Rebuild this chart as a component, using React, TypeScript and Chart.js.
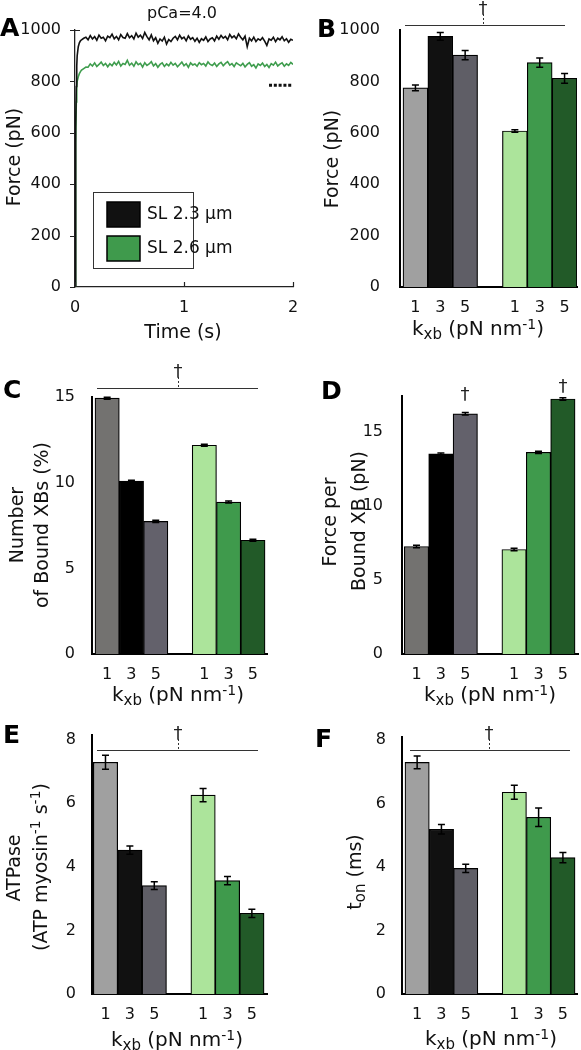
import React, { useEffect, useRef } from 'react';
import { Chart, registerables } from 'chart.js';

Chart.register(...registerables);

const W = 581;
const H = 1050;
const FONT = "'DejaVu Sans', 'Noto Sans', sans-serif";
const TEXT = '#111111';
const TICK_SIZE = 16;

// ---------- Panel A data (force trace, pCa = 4.0) ----------
const traceTime = [
  0, 0.004, 0.008, 0.012, 0.016, 0.02, 0.03, 0.04, 0.05, 0.06, 0.08, 0.1,
  0.12, 0.14, 0.16, 0.18, 0.2, 0.22, 0.24, 0.26, 0.28, 0.3,
  0.32, 0.34, 0.36, 0.38, 0.4, 0.42, 0.44, 0.46, 0.48, 0.5,
  0.52, 0.54, 0.56, 0.58, 0.6, 0.62, 0.64, 0.66, 0.68, 0.7,
  0.72, 0.74, 0.76, 0.78, 0.8, 0.82, 0.84, 0.86, 0.88, 0.9,
  0.92, 0.94, 0.96, 0.98, 1.0, 1.02, 1.04, 1.06, 1.08, 1.1,
  1.12, 1.14, 1.16, 1.18, 1.2, 1.22, 1.24, 1.26, 1.28, 1.3,
  1.32, 1.34, 1.36, 1.38, 1.4, 1.42, 1.44, 1.46, 1.48, 1.5,
  1.52, 1.54, 1.56, 1.58, 1.6, 1.62, 1.64, 1.66, 1.68, 1.7,
  1.72, 1.74, 1.76, 1.78, 1.8, 1.82, 1.84, 1.86, 1.88, 1.9,
  1.92, 1.94, 1.96, 1.98, 2.0,
];
const forceSL23 = [
  0, 350, 620, 780, 860, 900, 935, 950, 958, 962, 968, 972,
  962, 978, 965, 974, 960, 980, 968, 972, 958, 976,
  970, 984, 966, 975, 962, 982, 971, 968, 986, 970,
  978, 965, 988, 972, 980, 967, 990, 974, 962, 981,
  958, 970, 948, 965, 957, 972, 945, 963, 955, 968,
  975, 962, 980, 966, 972, 958, 977, 964, 970, 956,
  968, 952, 966, 960, 973, 955, 965, 970, 958, 976,
  964, 979, 968, 975, 962, 983, 970, 977, 966, 985,
  972, 962, 976, 935, 968, 958, 972, 955, 966, 960,
  970, 957, 940, 965, 960, 972, 955, 968, 962, 974,
  958, 966, 952, 964, 960,
];
const forceSL26 = [
  0, 300, 560, 720, 780, 800, 818, 830, 838, 844, 850, 856,
  855, 868, 860, 872, 858, 866, 875, 862, 870, 857,
  869, 861, 874, 864, 878, 860, 870, 866, 882, 863,
  871, 859, 876, 865, 870, 856, 873, 862, 868, 877,
  860, 869, 855, 866, 872, 858, 868, 861, 874, 863,
  870, 857, 866, 875, 861, 869, 855, 872, 864, 868,
  859, 873, 865, 870, 860, 876, 866, 862, 871, 858,
  868, 874, 861, 870, 877, 863, 869, 858, 872, 866,
  861, 870, 856, 866, 873, 859, 865, 852, 868, 862,
  871, 858, 866, 854, 869, 863, 875, 860, 867, 872,
  859, 868, 862, 874, 866,
];
const refLineTime = [1.78, 2.0];
const refLineForce = [785, 785];
const forceTicksA = [0, 200, 400, 600, 800, 1000];
const timeTicksA = [0, 1, 2];
const legendLabels = ['SL 2.3 \u03bcm', 'SL 2.6 \u03bcm'];

// ---------- Bar panels ----------
const kxbLabels = ['1', '3', '5', '1', '3', '5'];
const barSlots = [1, 2, 3, 5, 6, 7];

const forceB = [775, 975, 902, 607, 873, 812];
const forceBErr = [11, 15, 18, 5, 18, 19];
const boundXbC = [14.95, 10.1, 7.75, 12.2, 8.88, 6.65];
const boundXbCErr = [0.06, 0.06, 0.06, 0.06, 0.06, 0.06];
const forcePerXbD = [7.25, 13.5, 16.2, 7.05, 13.6, 17.2];
const forcePerXbDErr = [0.08, 0.06, 0.08, 0.08, 0.08, 0.08];
const atpaseE = [7.29, 4.53, 3.41, 6.26, 3.57, 2.54];
const atpaseEErr = [0.22, 0.13, 0.12, 0.21, 0.13, 0.13];
const tonF = [7.3, 5.19, 3.96, 6.36, 5.57, 4.3];
const tonFErr = [0.2, 0.15, 0.13, 0.22, 0.29, 0.16];

const ticksForce = [0, 200, 400, 600, 800, 1000];
const ticks0to15 = [0, 5, 10, 15];
const ticks0to8 = [0, 2, 4, 6, 8];

const colorsLight = ['#a0a0a0', '#111111', '#5f5e66', '#ace49b', '#3f9a4c', '#225a28'];
const colorsDark = ['#737270', '#000000', '#63616b', '#ace49b', '#3f9a4c', '#225a28'];

type Seg = { t: string; s: number; dy?: number };

const kxbSegs: Seg[] = [
  { t: 'k', s: 20 },
  { t: 'xb', s: 15, dy: 4 },
  { t: ' (pN nm', s: 20 },
  { t: '-1', s: 14, dy: -6 },
  { t: ')', s: 20 },
];

function drawRich(ctx: CanvasRenderingContext2D, segs: Seg[], x: number, y: number, rotated: boolean) {
  ctx.save();
  ctx.translate(x, y);
  if (rotated) ctx.rotate(-Math.PI / 2);
  ctx.textAlign = 'left';
  ctx.textBaseline = 'alphabetic';
  ctx.fillStyle = TEXT;
  const widths = segs.map((sg) => {
    ctx.font = `${sg.s}px ${FONT}`;
    return ctx.measureText(sg.t).width;
  });
  const total = widths.reduce((a, b) => a + b, 0);
  let cx = -total / 2;
  segs.forEach((sg, i) => {
    ctx.font = `${sg.s}px ${FONT}`;
    ctx.fillText(sg.t, cx, sg.dy || 0);
    cx += widths[i];
  });
  ctx.restore();
}

function drawLetter(ctx: CanvasRenderingContext2D, letter: string, x: number, y: number) {
  ctx.save();
  ctx.font = `bold 25px ${FONT}`;
  ctx.fillStyle = '#000';
  ctx.textAlign = 'left';
  ctx.textBaseline = 'middle';
  ctx.fillText(letter, x, y);
  ctx.restore();
}

function drawDagger(ctx: CanvasRenderingContext2D, x: number, baseline: number) {
  ctx.save();
  ctx.font = `18px ${FONT}`;
  ctx.fillStyle = '#222';
  ctx.textAlign = 'center';
  ctx.textBaseline = 'alphabetic';
  ctx.fillText('\u2020', x, baseline);
  ctx.restore();
}

function drawDaggerSpan(ctx: CanvasRenderingContext2D, y: number, x1: number, x2: number, xc: number) {
  ctx.save();
  ctx.strokeStyle = '#333';
  ctx.lineWidth = 1;
  ctx.beginPath();
  ctx.moveTo(x1, y + 0.5);
  ctx.lineTo(x2, y + 0.5);
  ctx.stroke();
  ctx.setLineDash([2, 2]);
  ctx.beginPath();
  ctx.moveTo(xc + 0.5, y - 11);
  ctx.lineTo(xc + 0.5, y);
  ctx.stroke();
  ctx.restore();
  drawDagger(ctx, xc, y - 11);
}

type TitleLine = { segs: Seg[]; x: number; y: number };
type BarPanel = {
  letter: string;
  letterX: number;
  letterY: number;
  L: number;
  R: number;
  T: number;
  B: number;
  xMin: number;
  xMax: number;
  yMax: number;
  yTicks: number[];
  tickPad: number;
  values: number[];
  errors: number[];
  colors: string[];
  yTitle: TitleLine[];
  xTitle: { x: number; y: number };
  span?: { y: number; x1: number; x2: number; xc: number };
  daggers?: { x: number; y: number }[];
};

const BAR_PANELS: BarPanel[] = [
  {
    letter: 'B', letterX: 317, letterY: 30,
    L: 400, R: 577, T: 30, B: 287, xMin: 0.379, xMax: 7.5, yMax: 1000,
    yTicks: ticksForce, tickPad: 12,
    values: forceB, errors: forceBErr, colors: colorsLight,
    yTitle: [{ segs: [{ t: 'Force (pN)', s: 19 }], x: 338, y: 159 }],
    xTitle: { x: 478, y: 335 },
    span: { y: 25, x1: 405, x2: 565, xc: 483 },
  },
  {
    letter: 'C', letterX: 3, letterY: 391,
    L: 92, R: 267, T: 397, B: 654, xMin: 0.376, xMax: 7.58, yMax: 15.02,
    yTicks: ticks0to15, tickPad: 9,
    values: boundXbC, errors: boundXbCErr, colors: colorsDark,
    yTitle: [
      { segs: [{ t: 'Number', s: 19 }], x: 23, y: 525 },
      { segs: [{ t: 'of Bound XBs (%)', s: 19 }], x: 47.5, y: 525 },
    ],
    xTitle: { x: 178, y: 701 },
    span: { y: 388, x1: 97, x2: 258, xc: 178 },
  },
  {
    letter: 'D', letterX: 321, letterY: 392,
    L: 402, R: 578, T: 396, B: 654, xMin: 0.406, xMax: 7.62, yMax: 17.4,
    yTicks: ticks0to15, tickPad: 11,
    values: forcePerXbD, errors: forcePerXbDErr, colors: colorsDark,
    yTitle: [
      { segs: [{ t: 'Force per', s: 19 }], x: 336, y: 522 },
      { segs: [{ t: 'Bound XB (pN)', s: 19 }], x: 365, y: 521 },
    ],
    xTitle: { x: 490, y: 701 },
    daggers: [{ x: 465, y: 400 }, { x: 563, y: 392 }],
  },
  {
    letter: 'E', letterX: 3, letterY: 736,
    L: 92, R: 267, T: 735, B: 994, xMin: 0.447, xMax: 7.62, yMax: 8.15,
    yTicks: ticks0to8, tickPad: 8,
    values: atpaseE, errors: atpaseEErr, colors: colorsLight,
    yTitle: [
      { segs: [{ t: 'ATPase', s: 19 }], x: 19.5, y: 868 },
      {
        segs: [
          { t: '(ATP myosin', s: 19 },
          { t: '-1', s: 14, dy: -7 },
          { t: ' s', s: 19 },
          { t: '-1', s: 14, dy: -7 },
          { t: ')', s: 19 },
        ],
        x: 46.5, y: 867,
      },
    ],
    xTitle: { x: 177, y: 1046 },
    span: { y: 750, x1: 97, x2: 258, xc: 178 },
  },
  {
    letter: 'F', letterX: 315, letterY: 740,
    L: 402, R: 577, T: 737, B: 994, xMin: 0.377, xMax: 7.58, yMax: 8.1,
    yTicks: ticks0to8, tickPad: 8,
    values: tonF, errors: tonFErr, colors: colorsLight,
    yTitle: [
      {
        segs: [
          { t: 't', s: 19 },
          { t: 'on', s: 15, dy: 4 },
          { t: ' (ms)', s: 19 },
        ],
        x: 360.5, y: 872,
      },
    ],
    xTitle: { x: 491, y: 1045 },
    span: { y: 750, x1: 410, x2: 570, xc: 489 },
  },
];

function makeBarChart(canvas: HTMLCanvasElement, p: BarPanel) {
  return new Chart(canvas, {
    type: 'bar',
    data: {
      datasets: [
        {
          data: p.values.map((v, i) => ({ x: barSlots[i], y: v })),
          backgroundColor: p.colors,
          borderColor: '#000',
          borderWidth: 1.2,
          borderSkipped: 'bottom',
          barPercentage: 1,
          categoryPercentage: 1,
        } as any,
      ],
    },
    options: {
      responsive: false,
      animation: false,
      devicePixelRatio: 1,
      events: [],
      layout: { padding: { left: 0, top: p.T, right: W - p.R, bottom: 0 } },
      plugins: { legend: { display: false }, tooltip: { enabled: false }, title: { display: false } },
      scales: {
        x: {
          type: 'linear',
          min: p.xMin,
          max: p.xMax,
          offset: false,
          z: 1,
          grid: { display: false, offset: false },
          border: { display: true, color: '#000', width: 2 },
          afterBuildTicks: (s: any) => {
            s.ticks = barSlots.map((v) => ({ value: v }));
          },
          afterFit: (s: any) => {
            s.height = H - p.B;
          },
          ticks: {
            autoSkip: false,
            maxRotation: 0,
            padding: 3,
            color: TEXT,
            font: { family: FONT, size: TICK_SIZE },
            callback: (v: any) => {
              const i = barSlots.indexOf(Number(v));
              return i >= 0 ? kxbLabels[i] : '';
            },
          },
        },
        y: {
          type: 'linear',
          min: 0,
          max: p.yMax,
          z: 1,
          grid: { display: false },
          border: { display: true, color: '#000', width: 2 },
          afterBuildTicks: (s: any) => {
            s.ticks = p.yTicks.map((v) => ({ value: v }));
          },
          afterFit: (s: any) => {
            s.width = p.L;
          },
          ticks: {
            padding: p.tickPad,
            color: TEXT,
            font: { family: FONT, size: TICK_SIZE },
            callback: (v: any) => String(v),
          },
        },
      },
    } as any,
    plugins: [
      {
        id: 'extras' + p.letter,
        afterDraw(chart: any) {
          const ctx: CanvasRenderingContext2D = chart.ctx;
          const xs = chart.scales.x;
          const ys = chart.scales.y;
          ctx.save();
          ctx.strokeStyle = '#000';
          ctx.lineWidth = 1.5;
          p.values.forEach((v, i) => {
            const e = p.errors[i];
            const px = xs.getPixelForValue(barSlots[i]);
            const y1 = ys.getPixelForValue(v + e);
            const y2 = ys.getPixelForValue(v - e);
            ctx.beginPath();
            ctx.moveTo(px, y1);
            ctx.lineTo(px, y2);
            ctx.moveTo(px - 3.5, y1);
            ctx.lineTo(px + 3.5, y1);
            ctx.moveTo(px - 3.5, y2);
            ctx.lineTo(px + 3.5, y2);
            ctx.stroke();
          });
          ctx.restore();
          if (p.span) drawDaggerSpan(ctx, p.span.y, p.span.x1, p.span.x2, p.span.xc);
          if (p.daggers) p.daggers.forEach((d) => drawDagger(ctx, d.x, d.y));
          drawLetter(ctx, p.letter, p.letterX, p.letterY);
          p.yTitle.forEach((ln) => drawRich(ctx, ln.segs, ln.x, ln.y, true));
          drawRich(ctx, kxbSegs, p.xTitle.x, p.xTitle.y, false);
        },
      },
    ],
  });
}

const A_L = 75;
const A_R = 293;
const A_T = 30;
const A_B = 287;

function makeTraceChart(canvas: HTMLCanvasElement) {
  return new Chart(canvas, {
    type: 'line',
    data: {
      datasets: [
        {
          data: traceTime.map((t, i) => ({ x: t, y: forceSL23[i] })),
          borderColor: '#111111',
          borderWidth: 1.6,
          pointRadius: 0,
          tension: 0,
        },
        {
          data: traceTime.map((t, i) => ({ x: t, y: forceSL26[i] })),
          borderColor: '#3f9d4e',
          borderWidth: 1.6,
          pointRadius: 0,
          tension: 0,
        },
        {
          data: refLineTime.map((t, i) => ({ x: t, y: refLineForce[i] })),
          borderColor: '#111111',
          borderWidth: 3,
          borderDash: [3, 1.8],
          pointRadius: 0,
          tension: 0,
        },
      ],
    },
    options: {
      responsive: false,
      animation: false,
      devicePixelRatio: 1,
      events: [],
      layout: { padding: { left: 0, top: A_T, right: W - A_R, bottom: 0 } },
      plugins: { legend: { display: false }, tooltip: { enabled: false }, title: { display: false } },
      scales: {
        x: {
          type: 'linear',
          min: 0,
          max: 2,
          grid: { display: false },
          border: { display: true, color: '#222', width: 1.3 },
          afterBuildTicks: (s: any) => {
            s.ticks = timeTicksA.map((v) => ({ value: v }));
          },
          afterFit: (s: any) => {
            s.height = H - A_B;
          },
          ticks: {
            autoSkip: false,
            maxRotation: 0,
            padding: 3,
            color: TEXT,
            font: { family: FONT, size: TICK_SIZE },
            callback: (v: any) => String(v),
          },
        },
        y: {
          type: 'linear',
          min: 0,
          max: 1000,
          grid: { display: false },
          border: { display: true, color: '#222', width: 1.3 },
          afterBuildTicks: (s: any) => {
            s.ticks = forceTicksA.map((v) => ({ value: v }));
          },
          afterFit: (s: any) => {
            s.width = A_L;
          },
          ticks: {
            padding: 6,
            color: TEXT,
            font: { family: FONT, size: TICK_SIZE },
            callback: (v: any) => String(v),
          },
        },
      },
    } as any,
    plugins: [
      {
        id: 'extrasA',
        afterDraw(chart: any) {
          const ctx: CanvasRenderingContext2D = chart.ctx;
          const xs = chart.scales.x;
          const ys = chart.scales.y;
          const area = chart.chartArea;
          ctx.save();
          ctx.strokeStyle = '#222';
          ctx.lineWidth = 1.2;
          ctx.beginPath();
          forceTicksA.forEach((v) => {
            const py = Math.round(ys.getPixelForValue(v)) + 0.5;
            ctx.moveTo(area.left - 5, py);
            ctx.lineTo(area.left, py);
          });
          const topY = Math.round(ys.getPixelForValue(1000)) + 0.5;
          ctx.moveTo(area.left, topY);
          ctx.lineTo(area.left + 5, topY);
          timeTicksA.forEach((v) => {
            const px = Math.round(xs.getPixelForValue(v)) + 0.5;
            ctx.moveTo(px, area.bottom);
            ctx.lineTo(px, area.bottom - 5);
          });
          ctx.stroke();

          // legend
          ctx.fillStyle = '#fff';
          ctx.fillRect(93, 192, 100, 76);
          ctx.strokeStyle = '#333';
          ctx.lineWidth = 1;
          ctx.strokeRect(93.5, 192.5, 100, 76);
          const sw = [
            { y: 202, c: '#111111' },
            { y: 236, c: '#3f9a4c' },
          ];
          sw.forEach((s, i) => {
            ctx.fillStyle = s.c;
            ctx.fillRect(107, s.y, 33, 25);
            ctx.strokeStyle = '#000';
            ctx.lineWidth = 1.5;
            ctx.strokeRect(107, s.y, 33, 25);
            ctx.fillStyle = TEXT;
            ctx.font = `17px ${FONT}`;
            ctx.textAlign = 'left';
            ctx.textBaseline = 'middle';
            ctx.fillText(legendLabels[i], 147, s.y + 13);
          });
          ctx.restore();

          drawLetter(ctx, 'A', 0, 29);
          drawRich(ctx, [{ t: 'pCa=4.0', s: 16 }], 182, 18, false);
          drawRich(ctx, [{ t: 'Force (pN)', s: 19 }], 19.5, 157, true);
          drawRich(ctx, [{ t: 'Time (s)', s: 19 }], 183, 338, false);
        },
      },
    ],
  });
}

export default function App() {
  const refs = useRef<(HTMLCanvasElement | null)[]>([]);

  useEffect(() => {
    Chart.defaults.font.family = FONT;
    Chart.defaults.color = TEXT;
    const charts: Chart[] = [];
    const c0 = refs.current[0];
    if (c0) charts.push(makeTraceChart(c0));
    BAR_PANELS.forEach((p, i) => {
      const c = refs.current[i + 1];
      if (c) charts.push(makeBarChart(c, p));
    });
    return () => {
      charts.forEach((c) => c.destroy());
    };
  }, []);

  return (
    <div
      style={{
        position: 'absolute',
        left: 0,
        top: 0,
        width: W,
        height: H,
        background: '#fff',
        overflow: 'hidden',
      }}
    >
      {[0, 1, 2, 3, 4, 5].map((i) => (
        <canvas
          key={i}
          ref={(el) => {
            refs.current[i] = el;
          }}
          width={W}
          height={H}
          style={{ position: 'absolute', left: 0, top: 0, width: W, height: H }}
        />
      ))}
    </div>
  );
}
